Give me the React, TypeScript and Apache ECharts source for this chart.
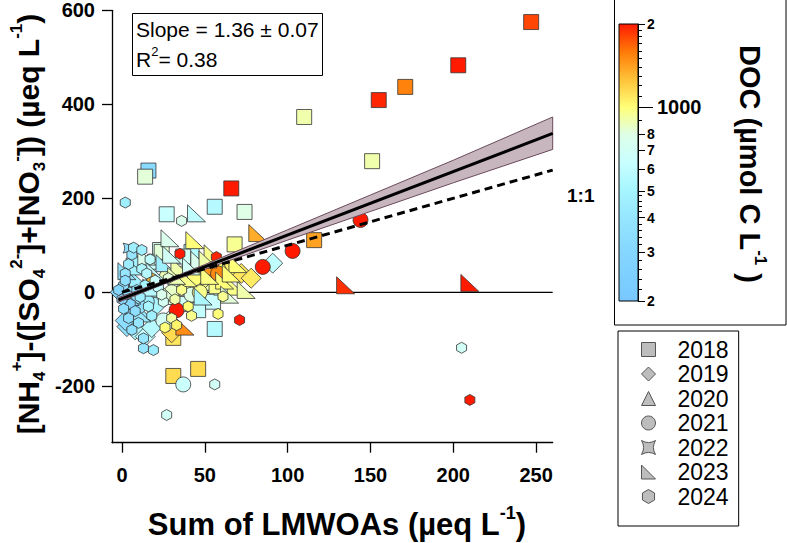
import { useEffect, useRef } from 'react';
import * as echarts from 'echarts';

const FONT = '"Liberation Sans", Arial, sans-serif';

// [sum of LMWOAs, NH4 - (SO4 + NO3), DOC]
const P2018 = [
  [247, 575, 1800], [203, 483, 2000], [171, 437, 1550], [155, 409, 1950], [110, 373, 900], [151, 279, 900],
  [16, 259, 320], [14, 246, 820], [66, 221, 2000], [56, 182, 560], [27, 166, 640], [74, 171, 800],
  [68, 102, 950], [116, 111, 1400], [31, -178, 1150], [46, -163, 1150], [56, -78, 560], [31, -97, 1100],
  [23, 90, 700], [20, 65, 650], [24, 86, 820], [42, 86, 560], [37, 76, 700], [46, -38, 620],
  [40, 40, 760], [55, -20, 640], [10, 60, 480], [5, 10, 340], [60, 10, 720], [30, -10, 820],
  [50, 20, 900], [35, -25, 700],
];
const P2019 = [
  [91, 62, 600], [72, 40, 1100], [64, 48, 1050], [78, 30, 1080], [30, -86, 1150], [8, -80, 560],
  [14, -94, 620], [3, -73, 360], [2, -60, 340], [10, -50, 400], [20, -30, 520], [40, 10, 900],
  [50, 30, 950], [-1, 0, 300], [6, 20, 420], [28, -62, 800], [18, -75, 560],
];
const P2020 = [
  [13, -5, 320], [6, -30, 360], [26, 45, 880], [45, 20, 1050], [4, -20, 300], [35, 10, 900], [60, 55, 1000],
];
const P2021 = [
  [33, -38, 2000], [103, 88, 2000], [144, 154, 2000], [85, 54, 2000], [37, -196, 650], [55, 46, 1500],
  [52, 52, 1450], [58, 40, 1520], [20, 5, 620], [30, 0, 850], [42, -5, 800], [15, -20, 460],
  [25, -60, 700], [10, -30, 380], [47, 0, 960], [44, 30, 1000],
];
const P2022 = [[4, 94, 360], [3, 20, 340], [8, -15, 400], [1, 5, 300]];
const P2023 = [
  [135, 15, 1900], [210, 20, 2000], [82, 126, 1350], [45, 168, 600], [29, 115, 760], [44, 111, 1000],
  [15, 76, 760], [26, 62, 460], [47, 69, 760], [55, 83, 960], [69, 12, 960], [75, 5, 900],
  [49, -9, 520], [38, -73, 1500], [58, 15, 960], [62, 25, 1000], [40, 30, 960], [35, 55, 900],
  [65, -5, 820], [30, 80, 700], [20, 45, 620], [10, 30, 460], [5, -10, 360], [12, -45, 420],
  [28, 0, 820], [52, 70, 900], [70, 60, 1000], [53, 35, 980], [33, 35, 880], [66, 40, 1000],
  [18, 10, 560], [42, 55, 700], [8, 55, 480], [3, 45, 380],
];
const P2024 = [
  [210, -229, 2000], [71, -59, 2000], [35, 82, 2000], [57, 75, 1950], [205, -118, 700], [2, 191, 460],
  [27, -261, 700], [56, -196, 700], [58, -46, 1000], [61, -9, 950], [13, -119, 400], [19, -123, 440],
  [13, -98, 400], [18, 30, 1300], [36, 152, 760], [1, 15, 350], [3, -5, 340], [5, -25, 300],
  [8, -40, 350], [2, 40, 400], [4, 60, 440], [6, 80, 400], [9, 5, 400], [11, -10, 450],
  [14, 15, 500], [16, -30, 500], [18, -50, 460], [10, -65, 400], [22, 10, 620], [25, -20, 720],
  [28, 30, 820], [32, -15, 900], [36, 5, 960], [40, -30, 1000], [42, -50, 960], [30, -55, 920],
  [26, -75, 1000], [33, -70, 1050], [7, 95, 460], [12, 50, 520], [0, -15, 300], [-2, 5, 300],
  [1, -35, 350], [4, -55, 350], [6, -80, 360], [2, 25, 350], [15, 40, 560], [20, 25, 660],
  [24, -5, 760], [17, 70, 600], [12, 90, 460],
];

// fit line, its confidence band and the 1:1 line
const FIT_X = [-2, 260];
const FIT_Y = [-16, 338];
const BAND_X = [-2, 25, 50, 100, 150, 200, 260];
const BAND_LO = [-21, 17, 49, 111, 172, 233, 304];
const BAND_HI = [-11, 24, 59, 133, 207, 281, 373];
const ONE_X = [0, 260];
const ONE_Y = [0, 260];

const X_TICKS = [0, 50, 100, 150, 200, 250];
const Y_TICKS = [-200, 0, 200, 400, 600];

// colour bar (DOC, µmol C L-1, log scale)
const DOC_MIN = 200;
const DOC_MAX = 2000;
const DOC_MINOR = [220, 240, 260, 280, 320, 340, 360, 380, 420, 440, 460, 480, 900, 1100, 1200, 1300, 1400, 1500, 1600, 1700, 1800, 1900];
const DOC_LABELED = [200, 300, 400, 500, 600, 700, 800, 2000];
const DOC_MAJOR = [1000];
const DOC_COLORS = ['#78C8FF', '#7ED0FF', '#88D9FF', '#96E6FF', '#A6F5FF', '#C8FFFF', '#DEFFE8', '#FFFF78', '#FFC238', '#FF7A08', '#FF1A00'];

const YEARS = ['2018', '2019', '2020', '2021', '2022', '2023', '2024'];
const SYMBOLS = [
  'rect',
  'diamond',
  'triangle',
  'circle',
  'path://M0,0 Q5,3 10,0 Q7,5 10,10 Q5,7 0,10 Q3,5 0,0 Z',
  'path://M0,0 L0,10 L10,10 Z',
  'path://M5,0 L9.33,2.5 L9.33,7.5 L5,10 L0.67,7.5 L0.67,2.5 Z',
];
const SIZES: any[] = [15, 20, 15, 15, [11, 10], [18, 17], [10, 11]];
const POINTS = [P2018, P2019, P2020, P2021, P2022, P2023, P2024];

const LMIN = Math.log10(DOC_MIN);
const LMAX = Math.log10(DOC_MAX);

export default function App() {
  const ref = useRef<HTMLDivElement>(null);

  useEffect(() => {
    if (!ref.current) return;
    const chart = echarts.init(ref.current, undefined, { renderer: 'svg' });

    const scatter = YEARS.map((y, i) => ({
      name: y,
      type: 'scatter',
      xAxisIndex: 0,
      yAxisIndex: 0,
      symbol: SYMBOLS[i],
      symbolSize: SIZES[i],
      itemStyle: { borderColor: '#333', borderWidth: 0.8, opacity: 1 },
      z: 2,
      silent: true,
      data: POINTS[i].map(([x, v, d]) => [x, v, Math.log10(d)]),
    }));

    const gradStops = DOC_COLORS.map((c, i) => ({ offset: 1 - i / (DOC_COLORS.length - 1), color: c })).reverse();

    const cbAxis = (values: number[], len: number, label: boolean, margin: number, size: number, line: boolean) => ({
      gridIndex: 1,
      type: 'value',
      position: 'right',
      min: LMIN,
      max: LMAX,
      axisLine: { show: line, onZero: false, lineStyle: { color: '#000', width: 1 } },
      axisTick: { show: true, length: len, customValues: values.map(v => Math.log10(v)), lineStyle: { color: '#000', width: 1 } },
      axisLabel: {
        show: label,
        customValues: values.map(v => Math.log10(v)),
        margin,
        fontSize: size,
        fontWeight: 'bold',
        fontFamily: FONT,
        color: '#000',
        formatter: (v: number) => {
          const d = Math.round(Math.pow(10, v));
          if (d === 1000) return '1000';
          return d > 1000 ? String(Math.round(d / 1000)) : String(Math.round(d / 100));
        },
      },
      splitLine: { show: false },
    });

    const option: any = {
      animation: false,
      grid: [
        { left: 112, top: 10.3, right: 234.3, bottom: 100.3 },
        {
          left: 619, top: 24, width: 19, height: 277, show: true, borderColor: '#000', borderWidth: 1,
          backgroundColor: { type: 'linear', x: 0, y: 0, x2: 0, y2: 1, colorStops: gradStops },
        },
      ],
      xAxis: [
        {
          gridIndex: 0, type: 'value', min: -6, max: 260,
          axisLine: { onZero: false, lineStyle: { color: '#000', width: 1.3 } },
          axisTick: { length: 10, customValues: X_TICKS, lineStyle: { color: '#000', width: 1.3 } },
          axisLabel: { customValues: X_TICKS, margin: 22, fontSize: 20, fontWeight: 'bold', fontFamily: FONT, color: '#000' },
          splitLine: { show: false },
        },
        { gridIndex: 1, type: 'value', min: 0, max: 1, show: false },
      ],
      yAxis: [
        {
          gridIndex: 0, type: 'value', min: -320, max: 600,
          axisLine: { onZero: false, lineStyle: { color: '#000', width: 1.3 } },
          axisTick: { length: 10, customValues: Y_TICKS, lineStyle: { color: '#000', width: 1.3 } },
          axisLabel: { customValues: Y_TICKS, margin: 17, fontSize: 20, fontWeight: 'bold', fontFamily: FONT, color: '#000' },
          splitLine: { show: false },
        },
        cbAxis(DOC_MINOR, 4, false, 0, 14, true),
        cbAxis(DOC_LABELED, 7, true, 9, 14, false),
        cbAxis(DOC_MAJOR, 15, true, 19, 20, false),
      ],
      visualMap: {
        type: 'continuous',
        show: false,
        dimension: 2,
        seriesIndex: [0, 1, 2, 3, 4, 5, 6],
        min: LMIN,
        max: LMAX,
        inRange: { color: DOC_COLORS },
      },
      legend: {
        orient: 'vertical',
        left: 618,
        top: 331,
        padding: [7, 10, 18, 23],
        itemGap: 1.5,
        itemWidth: 14,
        itemHeight: 14,
        borderColor: '#000',
        borderWidth: 1,
        selectedMode: false,
        textStyle: { fontSize: 23, fontFamily: FONT, color: '#000', lineHeight: 23, padding: [0, 0, 0, 17] },
        data: YEARS.map((y, i) => ({
          name: y,
          icon: SYMBOLS[i],
          itemStyle: { color: '#BDBDBD', borderColor: '#555', borderWidth: 1 },
        })),
      },
      series: [
        ...scatter,
        {
          type: 'line', xAxisIndex: 0, yAxisIndex: 0, symbol: 'none', silent: true, z: 1,
          lineStyle: { color: '#000', width: 1.2 },
          data: [[-6, 0], [260, 0]],
        },
        {
          type: 'custom', xAxisIndex: 0, yAxisIndex: 0, silent: true, z: 3,
          data: [[0, 0]],
          renderItem: (_p: any, api: any) => {
            const up = BAND_X.map((x, i) => api.coord([x, BAND_HI[i]]));
            const lo = BAND_X.map((x, i) => api.coord([x, BAND_LO[i]])).reverse();
            return {
              type: 'polygon',
              shape: { points: [...up, ...lo] },
              style: { fill: '#C8B6BF', stroke: '#6A4A5A', lineWidth: 1 },
            };
          },
        },
        {
          type: 'line', xAxisIndex: 0, yAxisIndex: 0, symbol: 'none', silent: true, z: 4,
          lineStyle: { color: '#000', width: 3 },
          data: FIT_X.map((x, i) => [x, FIT_Y[i]]),
        },
        {
          type: 'line', xAxisIndex: 0, yAxisIndex: 0, symbol: 'none', silent: true, z: 4,
          lineStyle: { color: '#000', width: 3, type: [8, 5] },
          data: ONE_X.map((x, i) => [x, ONE_Y[i]]),
        },
      ],
      graphic: [
        {
          type: 'rect', z: 100,
          shape: { x: 132.5, y: 13.5, width: 190, height: 62 },
          style: { fill: '#fff', stroke: '#000', lineWidth: 1 },
        },
        {
          type: 'text', z: 101, x: 136, y: 29,
          style: { text: 'Slope = 1.36 ± 0.07', font: `21px ${FONT}`, fill: '#000', verticalAlign: 'middle' },
        },
        {
          type: 'text', z: 101, x: 136, y: 59,
          style: {
            text: '{a|R}{s|2}{a|= 0.38}',
            verticalAlign: 'middle',
            rich: {
              a: { fontSize: 21, fontFamily: FONT, color: '#000', lineHeight: 28 },
              s: { fontSize: 13, fontFamily: FONT, color: '#000', lineHeight: 13, verticalAlign: 'top' },
            },
          },
        },
        {
          type: 'text', z: 101, x: 567, y: 195,
          style: { text: '1:1', font: `bold 19px ${FONT}`, fill: '#000', verticalAlign: 'middle' },
        },
        {
          type: 'text', z: 101, x: 28, y: 224, rotation: Math.PI / 2,
          style: {
            text: '{b|[NH}{sub|4}{sup|+}{b|]-([SO}{sub|4}{sup|2-}{b|]+[NO}{sub|3}{sup|-}{b|]) (µeq L}{sup|-1}{b|)}',
            align: 'center',
            verticalAlign: 'middle',
            rich: {
              b: { fontSize: 30, fontWeight: 'bold', fontFamily: FONT, color: '#000', lineHeight: 40 },
              sub: { fontSize: 17, fontWeight: 'bold', fontFamily: FONT, color: '#000', lineHeight: 17, verticalAlign: 'bottom' },
              sup: { fontSize: 17, fontWeight: 'bold', fontFamily: FONT, color: '#000', lineHeight: 17, verticalAlign: 'top' },
            },
          },
        },
        {
          type: 'text', z: 101, x: 337, y: 524,
          style: {
            text: '{b|Sum of LMWOAs (µeq L}{sup|-1}{b|)}',
            align: 'center',
            verticalAlign: 'middle',
            rich: {
              b: { fontSize: 31, fontWeight: 'bold', fontFamily: FONT, color: '#000', lineHeight: 40 },
              sup: { fontSize: 18, fontWeight: 'bold', fontFamily: FONT, color: '#000', lineHeight: 18, verticalAlign: 'top' },
            },
          },
        },
        {
          type: 'text', z: 101, x: 750, y: 164, rotation: -Math.PI / 2,
          style: {
            text: '{b|DOC (µmol C L}{sup|-1}{b| )}',
            align: 'center',
            verticalAlign: 'middle',
            rich: {
              b: { fontSize: 29, fontWeight: 'bold', fontFamily: FONT, color: '#000', lineHeight: 38 },
              sup: { fontSize: 17, fontWeight: 'bold', fontFamily: FONT, color: '#000', lineHeight: 17, verticalAlign: 'top' },
            },
          },
        },
        {
          type: 'rect', z: 0,
          shape: { x: 614.5, y: -2, width: 171.5, height: 327 },
          style: { fill: 'none', stroke: '#000', lineWidth: 1 },
        },
      ],
    };

    chart.setOption(option);
    return () => chart.dispose();
  }, []);

  return <div ref={ref} style={{ position: 'absolute', left: 0, top: 0, width: 787, height: 543 }} />;
}
